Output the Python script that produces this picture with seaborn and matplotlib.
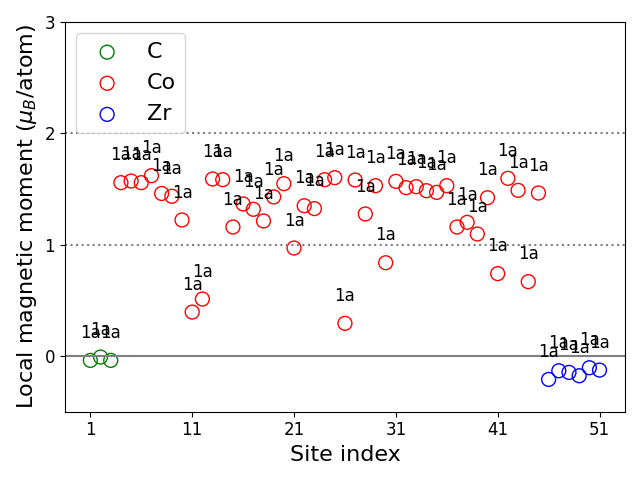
import matplotlib
matplotlib.use("Agg")
import matplotlib.pyplot as plt
import seaborn as sns
import numpy as np

# site indices and local moments
c_sites = [1, 2, 3]
c_moments = [-0.039, -0.009, -0.039]

co_sites = list(range(4, 46))
co_moments = [1.557, 1.572, 1.557, 1.62, 1.46, 1.435, 1.222, 0.395, 0.512,
              1.59, 1.584, 1.159, 1.366, 1.318, 1.213, 1.429, 1.548, 0.970,
              1.350, 1.324, 1.584, 1.602, 0.294, 1.581, 1.276, 1.530, 0.838,
              1.569, 1.512, 1.521, 1.485, 1.470, 1.530, 1.159, 1.201, 1.096,
              1.422, 0.740, 1.596, 1.488, 0.668, 1.464]

zr_sites = [46, 47, 48, 49, 50, 51]
zr_moments = [-0.210, -0.132, -0.147, -0.177, -0.105, -0.126]

wyckoff = "1a"
xtick_vals = [1, 11, 21, 31, 41, 51]
ytick_vals = [0, 1, 2, 3]

fig, ax = plt.subplots(figsize=(6.4, 4.8), dpi=100)

groups = [("C", c_sites, c_moments, "green"),
          ("Co", co_sites, co_moments, "red"),
          ("Zr", zr_sites, zr_moments, "blue")]

for name, xs, ys, col in groups:
    sns.scatterplot(x=xs, y=ys, ax=ax, s=100, marker="o", facecolor="none",
                    edgecolor=col, linewidth=1, label=name)
    for x, y in zip(xs, ys):
        ax.text(x, y + 0.2, wyckoff, ha="center", fontsize=12)

ax.axhline(0, color="gray", linewidth=1.5)
ax.axhline(1, color="gray", linestyle=":", linewidth=1.5)
ax.axhline(2, color="gray", linestyle=":", linewidth=1.5)

ax.set_ylim(-0.5, 3)
ax.set_xticks(xtick_vals)
ax.set_yticks(ytick_vals)
ax.tick_params(labelsize=12)
ax.set_xlabel("Site index", fontsize=16)
ax.set_ylabel(r"Local magnetic moment ($\mu_B$/atom)", fontsize=16)
ax.legend(loc="upper left", fontsize=16)

plt.tight_layout()
plt.savefig("out.png", dpi=100)
